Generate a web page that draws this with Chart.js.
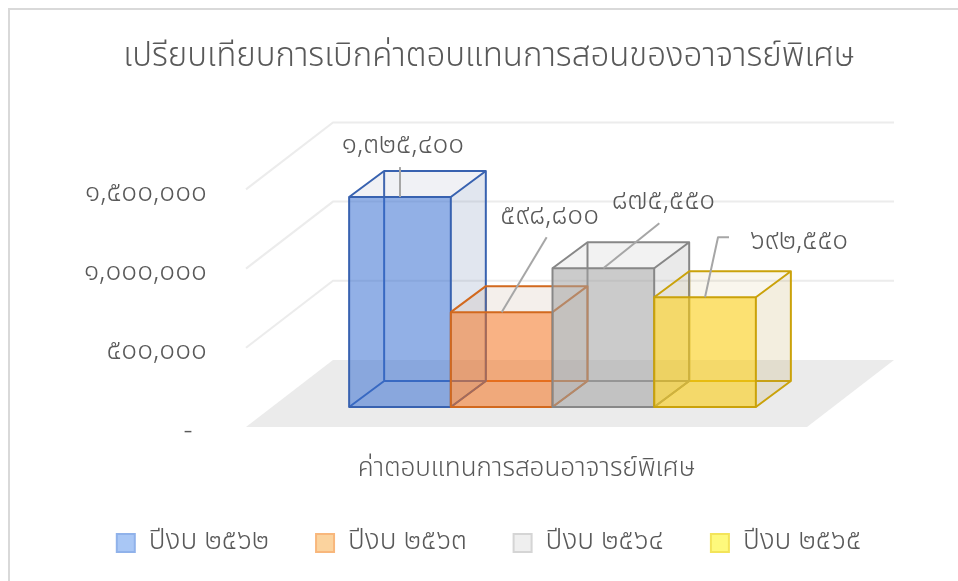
<!DOCTYPE html>
<html>
<head>
<meta charset="utf-8">
<script src="https://cdn.jsdelivr.net/npm/chart.js@4.4.1/dist/chart.umd.min.js"></script>
<style>
  html, body { margin: 0; padding: 0; background: #fff; }
  #wrap { width: 958px; height: 581px; }
</style>
</head>
<body>
<div id="wrap"><canvas id="chart" width="958" height="581"></canvas></div>
<script>
const categories = ["ค่าตอบแทนการสอนอาจารย์พิเศษ"];
const seriesNames = ["ปีงบ ๒๕๖๒", "ปีงบ ๒๕๖๓", "ปีงบ ๒๕๖๔", "ปีงบ ๒๕๖๕"];
const values2562 = [1325400];
const values2563 = [598800];
const values2564 = [875550];
const values2565 = [692550];
const yTicks = [0, 500000, 1000000, 1500000];

const seriesValues = [values2562, values2563, values2564, values2565];

// box colours: front face, top face, side face, edges, legend fill, legend edge
const boxStyles = [
    { front: "rgba(57,111,210,0.55)", top: "rgba(140,150,180,0.13)", side: "rgba(120,140,180,0.22)", edge: "#3862b0", legend: "#a9c7f5", legendEdge: "#90b2ea" },
    { front: "rgba(244,115,31,0.55)", top: "rgba(180,140,110,0.14)", side: "rgba(180,140,110,0.2)", edge: "#d2691e", legend: "#fbd39e", legendEdge: "#f8b77c" },
    { front: "rgba(160,160,160,0.55)", top: "rgba(128,128,128,0.1)", side: "rgba(128,128,128,0.17)", edge: "#878787", legend: "#efefef", legendEdge: "#d5d5d5" },
    { front: "rgba(250,205,20,0.6)", top: "rgba(200,170,80,0.1)", side: "rgba(190,160,80,0.18)", edge: "#caa20a", legend: "#fef97c", legendEdge: "#f3e45a" },
];

// where each value label sits, relative to the top centre of its bar front
const labelOffsets = [
    { dx: 3, dy: -50, line: [[0, -30], [0, 0]] },
    { dx: 48, dy: -94, line: [[45, -75], [0, 0]] },
    { dx: 60, dy: -65, line: [[56, -45], [0, 0]] },
    { dx: 94, dy: -54, line: [[24, -60], [13, -60], [0, 0]] },
];

const FONT = "'Noto Sans Thai', 'Leelawadee UI', 'Noto Sans', sans-serif";
const WEIGHT = "300";
const GREY_TEXT = "#595959";
const DEPTH = { fx: -26, fy: 20, bx: 61, by: -47 }; // floor front / back vs bar plane
const BOX_DEPTH = { x: 35, y: -26 };
const LEGEND_PAD = 47;
const LEGEND_FONT = 28;
const PAD_BOTTOM = 14;

function thaiNum(n) {
    if (n === 0) return "-  ";
    return n.toLocaleString("en-US").replace(/\d/g, d => "๐๑๒๓๔๕๖๗๘๙"[d]);
}

const scene3d = {
    id: "scene3d",
    beforeDraw(chart) {
        const ctx = chart.ctx;
        ctx.save();
        ctx.fillStyle = "#fff";
        ctx.fillRect(0, 0, chart.width, chart.height);
        ctx.strokeStyle = "#d9d9d9";
        ctx.lineWidth = 2;
        ctx.beginPath();
        ctx.moveTo(9, chart.height);
        ctx.lineTo(9, 9);
        ctx.lineTo(chart.width, 9);
        ctx.stroke();
        ctx.restore();
    },
    beforeDatasetsDraw(chart) {
        const ctx = chart.ctx;
        const area = chart.chartArea;
        const y = chart.scales.y;
        const y0 = y.getPixelForValue(0);
        ctx.save();
        // floor
        ctx.fillStyle = "#ebebeb";
        ctx.beginPath();
        ctx.moveTo(area.left + DEPTH.fx, y0 + DEPTH.fy);
        ctx.lineTo(area.right + DEPTH.fx, y0 + DEPTH.fy);
        ctx.lineTo(area.right + DEPTH.bx, y0 + DEPTH.by);
        ctx.lineTo(area.left + DEPTH.bx, y0 + DEPTH.by);
        ctx.closePath();
        ctx.fill();
        // side and back wall gridlines
        ctx.strokeStyle = "#ececec";
        ctx.lineWidth = 2;
        yTicks.forEach(v => {
            if (v === 0) return;
            const py = y.getPixelForValue(v);
            ctx.beginPath();
            ctx.moveTo(area.left + DEPTH.fx, py + DEPTH.fy);
            ctx.lineTo(area.left + DEPTH.bx, py + DEPTH.by);
            ctx.lineTo(area.right + DEPTH.bx, py + DEPTH.by);
            ctx.stroke();
        });
        ctx.restore();
    },
    afterDatasetsDraw(chart) {
        const ctx = chart.ctx;
        const bars = chart.data.datasets.map((ds, i) => chart.getDatasetMeta(i).data[0]);
        const dx = BOX_DEPTH.x, dy = BOX_DEPTH.y;
        ctx.save();
        ctx.lineJoin = "round";
        // hidden back edges first
        bars.forEach((bar, i) => {
            const st = boxStyles[i];
            const l = bar.x - bar.width / 2, r = bar.x + bar.width / 2;
            const t = bar.y, b = bar.base;
            ctx.strokeStyle = st.edge;
            ctx.lineWidth = 2;
            ctx.beginPath();
            ctx.moveTo(l + dx, t + dy);
            ctx.lineTo(l + dx, b + dy);
            ctx.lineTo(r + dx, b + dy);
            ctx.moveTo(l, b);
            ctx.lineTo(l + dx, b + dy);
            ctx.stroke();
        });
        // visible faces, left to right
        bars.forEach((bar, i) => {
            const st = boxStyles[i];
            const l = bar.x - bar.width / 2, r = bar.x + bar.width / 2;
            const t = bar.y, b = bar.base;
            // right side
            ctx.fillStyle = st.side;
            ctx.beginPath();
            ctx.moveTo(r, t); ctx.lineTo(r + dx, t + dy); ctx.lineTo(r + dx, b + dy); ctx.lineTo(r, b);
            ctx.closePath();
            ctx.fill();
            // top
            ctx.fillStyle = st.top;
            ctx.beginPath();
            ctx.moveTo(l, t); ctx.lineTo(l + dx, t + dy); ctx.lineTo(r + dx, t + dy); ctx.lineTo(r, t);
            ctx.closePath();
            ctx.fill();
            // front
            ctx.fillStyle = st.front;
            ctx.fillRect(l, t, r - l, b - t);
            ctx.strokeStyle = st.edge;
            ctx.lineWidth = 2;
            ctx.strokeRect(l, t, r - l, b - t);
            ctx.beginPath();
            ctx.moveTo(l, t); ctx.lineTo(l + dx, t + dy); ctx.lineTo(r + dx, t + dy);
            ctx.lineTo(r, t);
            ctx.moveTo(r + dx, t + dy); ctx.lineTo(r + dx, b + dy); ctx.lineTo(r, b);
            ctx.stroke();
        });
        // value labels with leader lines
        ctx.font = WEIGHT + " 28px " + FONT;
        ctx.textAlign = "center";
        ctx.textBaseline = "middle";
        bars.forEach((bar, i) => {
            const off = labelOffsets[i];
            const cx = bar.x, cy = bar.y;
            ctx.strokeStyle = "#a6a6a6";
            ctx.lineWidth = 2;
            ctx.beginPath();
            off.line.forEach((p, k) => {
                if (k === 0) ctx.moveTo(cx + p[0], cy + p[1]);
                else ctx.lineTo(cx + p[0], cy + p[1]);
            });
            ctx.stroke();
            ctx.fillStyle = GREY_TEXT;
            ctx.fillText(thaiNum(seriesValues[i][0]), cx + off.dx, cy + off.dy);
        });
        ctx.restore();
    },
};

new Chart(document.getElementById("chart"), {
    type: "bar",
    data: {
        labels: categories,
        datasets: seriesNames.map((name, i) => ({
            label: name,
            data: seriesValues[i],
            backgroundColor: "rgba(0,0,0,0)",
            borderWidth: 0,
        })),
    },
    options: {
        responsive: false,
        animation: false,
        events: [],
        categoryPercentage: 0.725,
        barPercentage: 1,
        layout: { padding: { left: 20, right: 0, top: 0, bottom: PAD_BOTTOM } },
        plugins: {
            title: {
                display: true,
                text: "เปรียบเทียบการเบิกค่าตอบแทนการสอนของอาจารย์พิเศษ",
                color: GREY_TEXT,
                font: { family: FONT, size: 33, weight: WEIGHT },
                padding: { top: 40, bottom: 89.8 },
            },
            legend: {
                position: "bottom",
                labels: {
                    color: GREY_TEXT,
                    font: { family: FONT, size: LEGEND_FONT, weight: WEIGHT },
                    boxWidth: 18,
                    boxHeight: 18,
                    padding: LEGEND_PAD,
                    generateLabels(chart) {
                        return chart.data.datasets.map((ds, i) => ({
                            text: ds.label,
                            fillStyle: boxStyles[i].legend,
                            strokeStyle: boxStyles[i].legendEdge,
                            lineWidth: 2,
                            fontColor: GREY_TEXT,
                            datasetIndex: i,
                        }));
                    },
                },
            },
            tooltip: { enabled: false },
        },
        scales: {
            x: {
                grid: { display: false, drawTicks: false },
                border: { display: false },
                ticks: {
                    color: GREY_TEXT,
                    font: { family: FONT, size: 26, weight: WEIGHT },
                    labelOffset: -26,
                    padding: 48,
                },
                afterFit(scale) { scale.height = 581 - PAD_BOTTOM - (LEGEND_FONT + LEGEND_PAD + 10) - 407; },
            },
            y: {
                min: 0,
                max: 1500000,
                afterBuildTicks(scale) { scale.ticks = yTicks.map(v => ({ value: v })); },
                grid: { display: false, drawTicks: false },
                border: { display: false },
                ticks: {
                    color: GREY_TEXT,
                    font: { family: FONT, size: 28, weight: WEIGHT },
                    labelOffset: 26,
                    padding: 65,
                    callback: v => thaiNum(v),
                },
                afterFit(scale) { scale.width = 252; },
            },
            // empty right-hand band so the plot sits where the original does
            yRight: {
                position: "right",
                grid: { display: false, drawTicks: false },
                border: { display: false },
                ticks: { display: false },
                afterFit(scale) { scale.width = 125; },
            },
        },
    },
    plugins: [scene3d],
});
</script>
</body>
</html>
